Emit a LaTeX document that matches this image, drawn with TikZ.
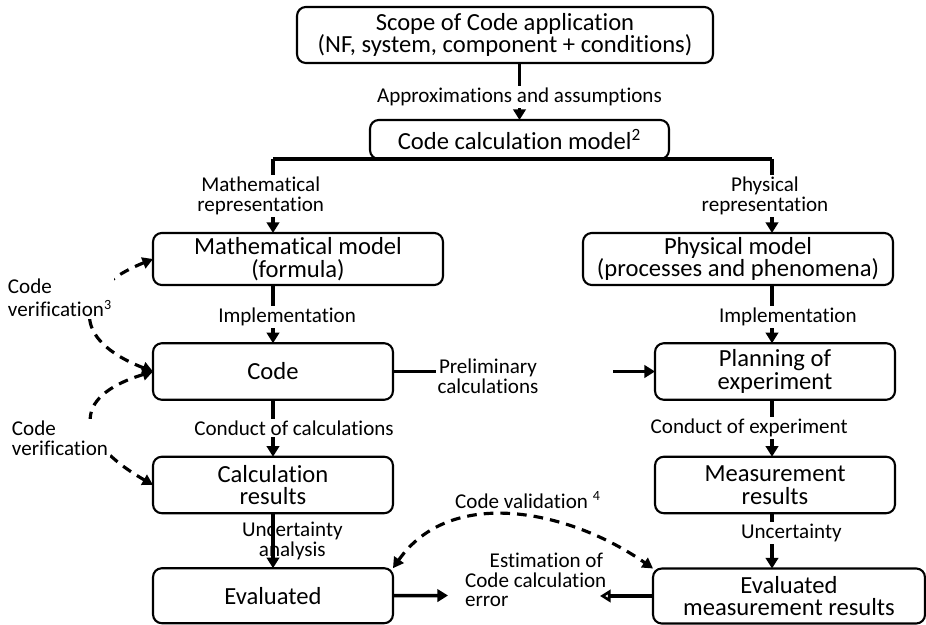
\documentclass[tikz,border=0pt]{standalone}
\usepackage{fontspec}
\setmainfont{Carlito}[Ligatures=NoCommon]
\usetikzlibrary{positioning,arrows.meta}

\begin{document}
\begin{tikzpicture}[x=0.02cm,y=-0.02cm,
        box/.style={draw,line width=1.2pt,rounded corners=5pt,align=center,inner sep=1pt,outer sep=0pt,font=\fontsize{14}{13}\selectfont},
        cell/.style={box,minimum width=4.8cm,minimum height=1.13cm},
        lbl/.style={font=\fontsize{12}{11.2}\selectfont,align=center,inner sep=1pt,fill=white},
        bus/.style={line width=2pt},
        arr/.style={line width=2pt,-{Triangle[length=6pt,width=7pt]}},
        verif/.style={line width=1.8pt,dash pattern=on 5.5pt off 4pt,{Triangle[length=6pt,width=6.5pt]}-{Triangle[length=6pt,width=6.5pt]}}
    ]
    \useasboundingbox (0,0) rectangle (926,625);

    \node[box,minimum width=8.32cm,minimum height=1.12cm] (scope) at (505,35) {Scope of Code application\\(NF, system, component + conditions)};
    \node[box,minimum width=5.98cm,minimum height=0.78cm] (model) at (519.5,139.5) {Code calculation model\textsuperscript{2}};
    \node[box,minimum width=5.8cm,minimum height=1.04cm] (mathmodel) at (298,259) {Mathematical model\\(formula)};
    \node[box,minimum width=6.2cm,minimum height=1.04cm] (physmodel) at (738,259) {Physical model\\(processes and phenomena)};
    \node[cell] (code) at (273,371.5) {Code};
    \node[cell] (plan) at (775,371.5) {Planning of\\experiment};
    \node[cell,below=1.14cm of code] (calcres) {Calculation\\results};
    \node[cell,below=1.14cm of plan] (meas) {Measurement\\results};
    \node[cell,minimum height=1.1cm,below=1.1cm of calcres] (evalc) {Evaluated};
    \node[box,minimum width=5.44cm,minimum height=1.1cm] (evalm) at (789,596) {Evaluated\\measurement results};

    \coordinate (lc) at (273,0);
    \coordinate (rc) at (772,0);

    \draw[arr] (model.north |- scope.south) -- node[lbl,pos=0.6]{Approximations and assumptions} (model.north);
    \draw[bus] (lc |- model.south) -- (rc |- model.south);
    \draw[arr] (lc |- model.south) -- node[lbl,xshift=-7pt]{Mathematical\\representation} (lc |- mathmodel.north);
    \draw[arr] (rc |- model.south) -- node[lbl,xshift=-4pt]{Physical\\representation} (rc |- physmodel.north);
    \draw[arr] (lc |- mathmodel.south) -- node[lbl,pos=0.55,xshift=8pt]{Implementation} (code);
    \draw[arr] (rc |- physmodel.south) -- node[lbl,pos=0.55,xshift=9pt]{Implementation} (rc |- plan.north);
    \draw[arr] (code) -- node[lbl,xshift=12pt]{Conduct of calculations} (calcres);
    \draw[arr] (rc |- plan.south) -- node[lbl,xshift=-13pt]{Conduct of experiment} (rc |- meas.north);
    \draw[arr] (calcres) -- node[lbl,fill=none,pos=0.5,xshift=11pt]{Uncertainty\\analysis} (evalc);
    \draw[arr] (rc |- meas.south) -- node[lbl,pos=0.36,xshift=11pt]{Uncertainty} (rc |- evalm.north);

    % preliminary calculations
    \node[lbl,fill=none] (prelim) at (488,376) {Preliminary\\calculations};
    \coordinate (prelimto) at (613,371.5);
    \draw[bus] (code.east) -- (code.east -| prelim.west);
    \draw[arr] (prelimto) -- (plan.west);

    % error estimation
    \node[lbl,fill=none,align=left,anchor=west] (est) at (463,580) {\hspace*{14pt}Estimation of\\Code calculation\\error};
    \coordinate (estl) at (448,595.5);
    \coordinate (estr) at (600,596);
    \draw[arr] (evalc.east) -- (estl);
    \draw[arr,-{Triangle[open,length=6pt,width=7pt]}] (evalm.west) -- (estr);

    % verification and validation
    \draw[verif] (mathmodel.west) to[out=202,in=159,looseness=2] (code.west);
    \draw[verif] (code.west) to[out=197,in=150,looseness=2] (calcres.west);
    \node[lbl,align=left] (ver1) at (60,298) {Code\\[2pt]verification\textsuperscript{3}};
    \node[lbl,align=left] (ver2) at (60,438) {Code\\verification};
    \draw[verif] (evalc.north east) to[out=55,in=145] (evalm.north west);
    \node[lbl,fill=none] (valid) at (528,500) {Code validation \textsuperscript{4}};
\end{tikzpicture}
\end{document}
